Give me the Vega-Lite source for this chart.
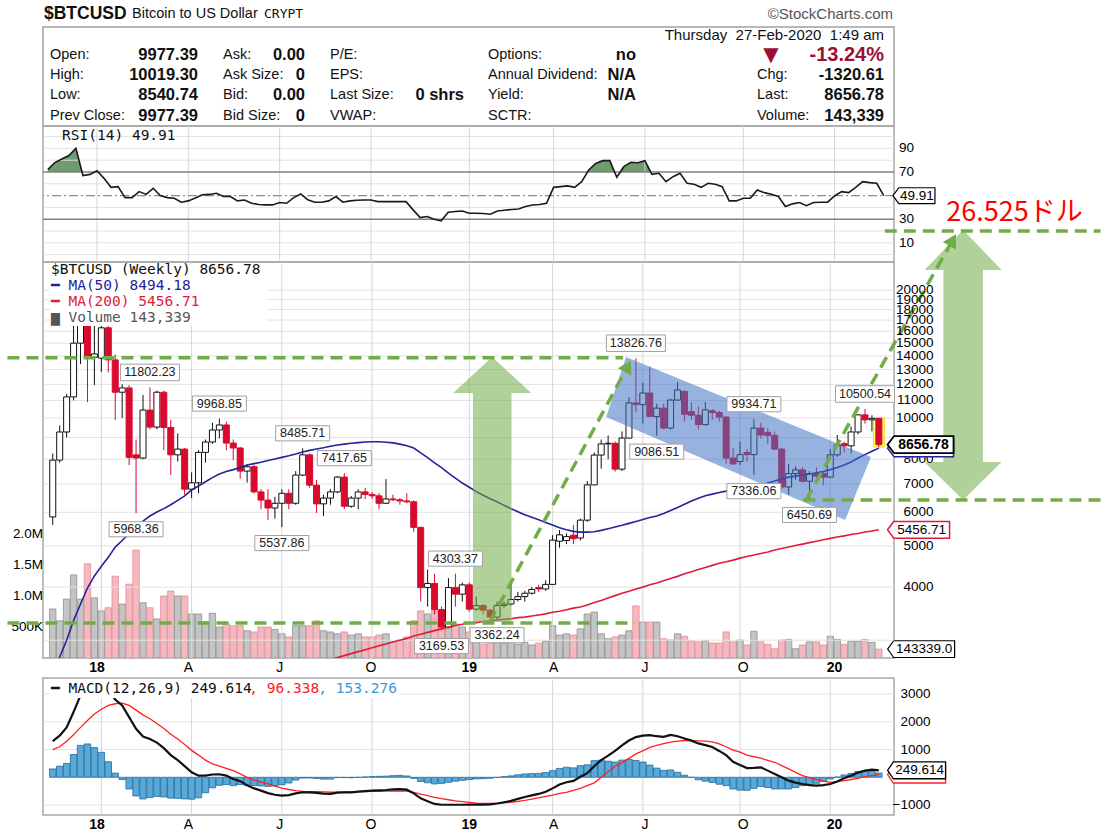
{
"$schema": "https://vega.github.io/schema/vega-lite/v6.json",
"background": "white",
"padding": {"left": 4, "top": 0, "right": 0, "bottom": 0},
"spacing": 0,
"bounds": "flush",
"config": {
  "font": "Liberation Sans",
  "view": {"stroke": "#a8a8a8", "strokeWidth": 1.5}
},
"datasets": {
"w": [
{"d":"2017-11-13","o":5850,"h":8250,"l":5600,"c":7960,"v":790000,"m50":2480,"rsi":72,"macd":1300,"sig":1000,"hist":300},
{"d":"2017-11-20","o":7960,"h":9600,"l":7850,"c":9270,"v":600000,"m50":2740,"rsi":78,"macd":1500,"sig":1100,"hist":400},
{"d":"2017-11-27","o":9270,"h":11400,"l":9000,"c":11210,"v":950000,"m50":3000,"rsi":81,"macd":1800,"sig":1300,"hist":500},
{"d":"2017-12-04","o":11210,"h":17200,"l":11000,"c":15000,"v":1340000,"m50":3340,"rsi":84,"macd":2350,"sig":1530,"hist":820},
{"d":"2017-12-11","o":15000,"h":19600,"l":13400,"c":19000,"v":950000,"m50":3650,"rsi":90,"macd":2950,"sig":1800,"hist":1150},
{"d":"2017-12-18","o":19000,"h":19200,"l":10900,"c":13900,"v":1520000,"m50":3980,"rsi":67,"macd":3250,"sig":2049,"hist":1201},
{"d":"2017-12-25","o":13900,"h":16500,"l":11960,"c":14150,"v":970000,"m50":4250,"rsi":68,"macd":3350,"sig":2280,"hist":1070},
{"d":"2018-01-01","o":13830,"h":17250,"l":12830,"c":16300,"v":760000,"m50":4480,"rsi":71,"macd":3350,"sig":2450,"hist":900},
{"d":"2018-01-08","o":16300,"h":17000,"l":12800,"c":13700,"v":810000,"m50":4700,"rsi":64.6,"macd":3150,"sig":2590,"hist":560},
{"d":"2018-01-15","o":13700,"h":14100,"l":9890,"c":11500,"v":1320000,"m50":4970,"rsi":57,"macd":2800,"sig":2650,"hist":150},
{"d":"2018-01-22","o":11500,"h":12000,"l":10000,"c":11770,"v":870000,"m50":5150,"rsi":57.6,"macd":2590,"sig":2670,"hist":-80},
{"d":"2018-01-29","o":11770,"h":11950,"l":7750,"c":8080,"v":1190000,"m50":5340,"rsi":48.3,"macd":2169,"sig":2590,"hist":-421},
{"d":"2018-02-05","o":8190,"h":8900,"l":5968.36,"c":8050,"v":1740000,"m50":5540,"rsi":48.3,"macd":1747,"sig":2420,"hist":-673},
{"d":"2018-02-12","o":8050,"h":11330,"l":8000,"c":10440,"v":890000,"m50":5720,"rsi":53.4,"macd":1470,"sig":2250,"hist":-780},
{"d":"2018-02-19","o":10440,"h":11802.23,"l":9400,"c":9520,"v":810000,"m50":5880,"rsi":51,"macd":1380,"sig":2109,"hist":-729},
{"d":"2018-02-26","o":9520,"h":11600,"l":9400,"c":11500,"v":630000,"m50":6010,"rsi":56.2,"macd":1250,"sig":1940,"hist":-690},
{"d":"2018-03-05","o":11500,"h":11600,"l":8400,"c":9500,"v":1000000,"m50":6120,"rsi":50,"macd":1050,"sig":1760,"hist":-710},
{"d":"2018-03-12","o":9500,"h":9900,"l":7340,"c":8190,"v":1080000,"m50":6250,"rsi":48.3,"macd":800,"sig":1550,"hist":-750},
{"d":"2018-03-19","o":8190,"h":9200,"l":7900,"c":8450,"v":1000000,"m50":6400,"rsi":47.7,"macd":620,"sig":1380,"hist":-760},
{"d":"2018-03-26","o":8450,"h":8500,"l":6600,"c":6800,"v":1000000,"m50":6560,"rsi":44.4,"macd":400,"sig":1180,"hist":-780},
{"d":"2018-04-02","o":6800,"h":7450,"l":6480,"c":7040,"v":710000,"m50":6770,"rsi":45.5,"macd":180,"sig":970,"hist":-790},
{"d":"2018-04-09","o":7040,"h":8400,"l":6650,"c":8300,"v":710000,"m50":6920,"rsi":48,"macd":60,"sig":800,"hist":-740},
{"d":"2018-04-16","o":8300,"h":8900,"l":7850,"c":8780,"v":580000,"m50":7080,"rsi":50.6,"macd":60,"sig":620,"hist":-560},
{"d":"2018-04-23","o":8780,"h":9750,"l":8700,"c":9370,"v":720000,"m50":7240,"rsi":51,"macd":100,"sig":480,"hist":-380},
{"d":"2018-04-30","o":9370,"h":9968.85,"l":8950,"c":9630,"v":500000,"m50":7380,"rsi":52,"macd":110,"sig":400,"hist":-290},
{"d":"2018-05-07","o":9630,"h":9800,"l":8400,"c":8730,"v":550000,"m50":7480,"rsi":49.2,"macd":60,"sig":320,"hist":-260},
{"d":"2018-05-14","o":8730,"h":8900,"l":7950,"c":8500,"v":520000,"m50":7560,"rsi":49.2,"macd":-60,"sig":241,"hist":-301},
{"d":"2018-05-21","o":8500,"h":8550,"l":7200,"c":7500,"v":520000,"m50":7650,"rsi":45.5,"macd":-140,"sig":120,"hist":-260},
{"d":"2018-05-28","o":7500,"h":7780,"l":7050,"c":7680,"v":440000,"m50":7750,"rsi":46.3,"macd":-290,"sig":0,"hist":-290},
{"d":"2018-06-04","o":7680,"h":7750,"l":6650,"c":6700,"v":420000,"m50":7810,"rsi":43.5,"macd":-400,"sig":-100,"hist":-300},
{"d":"2018-06-11","o":6700,"h":6800,"l":6100,"c":6410,"v":500000,"m50":7870,"rsi":42.5,"macd":-482,"sig":-170,"hist":-312},
{"d":"2018-06-18","o":6410,"h":6800,"l":5750,"c":6140,"v":500000,"m50":7940,"rsi":42.1,"macd":-570,"sig":-241,"hist":-329},
{"d":"2018-06-25","o":6140,"h":6520,"l":5800,"c":6300,"v":460000,"m50":8010,"rsi":42.1,"macd":-630,"sig":-320,"hist":-310},
{"d":"2018-07-02","o":6300,"h":6800,"l":5537.86,"c":6650,"v":390000,"m50":8080,"rsi":44.1,"macd":-660,"sig":-390,"hist":-270},
{"d":"2018-07-09","o":6650,"h":6800,"l":6100,"c":6300,"v":340000,"m50":8150,"rsi":43.5,"macd":-645,"sig":-440,"hist":-205},
{"d":"2018-07-16","o":6300,"h":7500,"l":6250,"c":7340,"v":520000,"m50":8230,"rsi":48.3,"macd":-580,"sig":-480,"hist":-100},
{"d":"2018-07-23","o":7340,"h":8485.71,"l":7300,"c":8190,"v":520000,"m50":8320,"rsi":51.4,"macd":-540,"sig":-510,"hist":-30},
{"d":"2018-07-30","o":8190,"h":8250,"l":6850,"c":6950,"v":520000,"m50":8390,"rsi":46.5,"macd":-542,"sig":-518,"hist":-24},
{"d":"2018-08-06","o":6950,"h":7150,"l":5980,"c":6280,"v":600000,"m50":8450,"rsi":44.4,"macd":-560,"sig":-518,"hist":-42},
{"d":"2018-08-13","o":6280,"h":6600,"l":5880,"c":6480,"v":440000,"m50":8510,"rsi":44.4,"macd":-590,"sig":-525,"hist":-65},
{"d":"2018-08-20","o":6480,"h":6800,"l":6250,"c":6700,"v":420000,"m50":8580,"m200":2700,"rsi":45.5,"macd":-600,"sig":-535,"hist":-65},
{"d":"2018-08-27","o":6700,"h":7300,"l":6650,"c":7260,"v":390000,"m50":8640,"m200":2730,"rsi":49.2,"macd":-550,"sig":-540,"hist":-10},
{"d":"2018-09-03","o":7260,"h":7417.65,"l":6100,"c":6200,"v":420000,"m50":8680,"m200":2760,"rsi":44.4,"macd":-545,"sig":-535,"hist":-10},
{"d":"2018-09-10","o":6200,"h":6550,"l":6150,"c":6480,"v":370000,"m50":8720,"m200":2790,"rsi":45.5,"macd":-542,"sig":-525,"hist":-17},
{"d":"2018-09-17","o":6480,"h":6800,"l":6100,"c":6700,"v":390000,"m50":8750,"m200":2820,"rsi":46,"macd":-520,"sig":-518,"hist":-2},
{"d":"2018-09-24","o":6700,"h":6850,"l":6450,"c":6610,"v":340000,"m50":8780,"m200":2850,"rsi":46.3,"macd":-500,"sig":-512,"hist":12},
{"d":"2018-10-01","o":6610,"h":6700,"l":6450,"c":6560,"v":340000,"m50":8790,"m200":2880,"rsi":46.3,"macd":-482,"sig":-508,"hist":26},
{"d":"2018-10-08","o":6560,"h":6660,"l":6100,"c":6300,"v":370000,"m50":8790,"m200":2910,"rsi":44.9,"macd":-470,"sig":-504,"hist":34},
{"d":"2018-10-15","o":6300,"h":7180,"l":6280,"c":6450,"v":390000,"m50":8770,"m200":2940,"rsi":44.9,"macd":-458,"sig":-500,"hist":42},
{"d":"2018-10-22","o":6450,"h":6600,"l":6380,"c":6420,"v":260000,"m50":8740,"m200":2970,"rsi":44.9,"macd":-435,"sig":-494,"hist":59},
{"d":"2018-10-29","o":6420,"h":6480,"l":6250,"c":6380,"v":290000,"m50":8680,"m200":3000,"rsi":44.9,"macd":-425,"sig":-494,"hist":69},
{"d":"2018-11-05","o":6380,"h":6650,"l":6300,"c":6350,"v":340000,"m50":8600,"m200":3030,"rsi":44.9,"macd":-446,"sig":-494,"hist":48},
{"d":"2018-11-12","o":6350,"h":6400,"l":5400,"c":5530,"v":600000,"m50":8500,"m200":3070,"rsi":37.9,"macd":-580,"sig":-540,"hist":-40},
{"d":"2018-11-19","o":5530,"h":5550,"l":3700,"c":3990,"v":760000,"m50":8280,"m200":3100,"rsi":31.4,"macd":-760,"sig":-610,"hist":-150},
{"d":"2018-11-26","o":3990,"h":4400,"l":3600,"c":4080,"v":710000,"m50":8070,"m200":3130,"rsi":32.3,"macd":-860,"sig":-663,"hist":-197},
{"d":"2018-12-03","o":4080,"h":4300,"l":3450,"c":3540,"v":760000,"m50":7840,"m200":3160,"rsi":30,"macd":-960,"sig":-720,"hist":-240},
{"d":"2018-12-10","o":3540,"h":3600,"l":3169.53,"c":3220,"v":600000,"m50":7640,"m200":3190,"rsi":28.6,"macd":-990,"sig":-770,"hist":-220},
{"d":"2018-12-17","o":3220,"h":4200,"l":3200,"c":3990,"v":580000,"m50":7420,"m200":3220,"rsi":35.9,"macd":-990,"sig":-810,"hist":-180},
{"d":"2018-12-24","o":3990,"h":4303.37,"l":3600,"c":3850,"v":550000,"m50":7220,"m200":3250,"rsi":36.5,"macd":-990,"sig":-850,"hist":-140},
{"d":"2018-12-31","o":3850,"h":4100,"l":3700,"c":4050,"v":500000,"m50":7030,"m200":3270,"rsi":37,"macd":-990,"sig":-880,"hist":-110},
{"d":"2019-01-07","o":4050,"h":4100,"l":3500,"c":3550,"v":420000,"m50":6870,"m200":3290,"rsi":35.1,"macd":-988,"sig":-905,"hist":-83},
{"d":"2019-01-14","o":3550,"h":3800,"l":3520,"c":3620,"v":250000,"m50":6710,"m200":3300,"rsi":35.1,"macd":-988,"sig":-930,"hist":-58},
{"d":"2019-01-21","o":3620,"h":3650,"l":3450,"c":3530,"v":220000,"m50":6580,"m200":3320,"rsi":34.8,"macd":-988,"sig":-940,"hist":-48},
{"d":"2019-01-28","o":3530,"h":3550,"l":3380,"c":3400,"v":270000,"m50":6460,"m200":3330,"rsi":34.2,"macd":-975,"sig":-940,"hist":-35},
{"d":"2019-02-04","o":3400,"h":3700,"l":3362.24,"c":3620,"v":290000,"m50":6350,"m200":3350,"rsi":37,"macd":-945,"sig":-940,"hist":-5},
{"d":"2019-02-11","o":3620,"h":3700,"l":3580,"c":3650,"v":240000,"m50":6230,"m200":3360,"rsi":37.6,"macd":-900,"sig":-925,"hist":25},
{"d":"2019-02-18","o":3650,"h":4150,"l":3620,"c":3740,"v":270000,"m50":6120,"m200":3370,"rsi":38.2,"macd":-850,"sig":-900,"hist":50},
{"d":"2019-02-25","o":3740,"h":3900,"l":3700,"c":3800,"v":220000,"m50":6020,"m200":3390,"rsi":38.7,"macd":-780,"sig":-870,"hist":90},
{"d":"2019-03-04","o":3800,"h":3920,"l":3700,"c":3870,"v":250000,"m50":5920,"m200":3400,"rsi":40.7,"macd":-710,"sig":-830,"hist":120},
{"d":"2019-03-11","o":3870,"h":4000,"l":3840,"c":3950,"v":210000,"m50":5840,"m200":3420,"rsi":42.1,"macd":-650,"sig":-783,"hist":133},
{"d":"2019-03-18","o":3990,"h":4050,"l":3900,"c":3960,"v":240000,"m50":5760,"m200":3440,"rsi":42.5,"macd":-600,"sig":-740,"hist":140},
{"d":"2019-03-25","o":3960,"h":4150,"l":3920,"c":4060,"v":270000,"m50":5680,"m200":3460,"rsi":43.5,"macd":-520,"sig":-690,"hist":170},
{"d":"2019-04-01","o":4060,"h":5300,"l":4050,"c":5160,"v":520000,"m50":5600,"m200":3490,"rsi":57,"macd":-400,"sig":-640,"hist":240},
{"d":"2019-04-08","o":5130,"h":5450,"l":4950,"c":5310,"v":370000,"m50":5520,"m200":3510,"rsi":57.6,"macd":-260,"sig":-580,"hist":320},
{"d":"2019-04-15","o":5150,"h":5350,"l":5050,"c":5260,"v":390000,"m50":5460,"m200":3540,"rsi":58.2,"macd":-180,"sig":-542,"hist":362},
{"d":"2019-04-22","o":5300,"h":5600,"l":5050,"c":5200,"v":370000,"m50":5410,"m200":3570,"rsi":57,"macd":-130,"sig":-470,"hist":340},
{"d":"2019-04-29","o":5220,"h":5800,"l":5150,"c":5750,"v":470000,"m50":5390,"m200":3590,"rsi":61.8,"macd":20,"sig":-398,"hist":418},
{"d":"2019-05-06","o":5750,"h":7100,"l":5700,"c":6960,"v":710000,"m50":5390,"m200":3630,"rsi":71.7,"macd":150,"sig":-300,"hist":450},
{"d":"2019-05-13","o":6960,"h":8300,"l":6950,"c":8180,"v":740000,"m50":5400,"m200":3680,"rsi":77.3,"macd":400,"sig":-200,"hist":600},
{"d":"2019-05-20","o":8180,"h":8900,"l":7600,"c":8690,"v":390000,"m50":5440,"m200":3720,"rsi":79.6,"macd":620,"sig":0,"hist":620},
{"d":"2019-05-27","o":8690,"h":9100,"l":8000,"c":8720,"v":310000,"m50":5490,"m200":3770,"rsi":79.6,"macd":780,"sig":200,"hist":580},
{"d":"2019-06-03","o":8720,"h":8800,"l":7480,"c":7580,"v":340000,"m50":5540,"m200":3820,"rsi":65.5,"macd":950,"sig":400,"hist":550},
{"d":"2019-06-10","o":7580,"h":9300,"l":7500,"c":8970,"v":370000,"m50":5590,"m200":3870,"rsi":74.5,"macd":1150,"sig":530,"hist":620},
{"d":"2019-06-17","o":8970,"h":11200,"l":8950,"c":10850,"v":440000,"m50":5650,"m200":3910,"rsi":78.2,"macd":1325,"sig":680,"hist":645},
{"d":"2019-06-24","o":10850,"h":13826.76,"l":10300,"c":10750,"v":840000,"m50":5710,"m200":3960,"rsi":77.9,"macd":1450,"sig":843,"hist":607},
{"d":"2019-07-01","o":10750,"h":12100,"l":9700,"c":11450,"v":580000,"m50":5770,"m200":4000,"rsi":79.6,"macd":1500,"sig":950,"hist":550},
{"d":"2019-07-08","o":11450,"h":13200,"l":10050,"c":10080,"v":580000,"m50":5830,"m200":4050,"rsi":68,"macd":1520,"sig":1080,"hist":440},
{"d":"2019-07-15","o":10080,"h":10800,"l":9086.51,"c":10550,"v":580000,"m50":5880,"m200":4090,"rsi":68.9,"macd":1480,"sig":1150,"hist":330},
{"d":"2019-07-22","o":10550,"h":10800,"l":9400,"c":9470,"v":310000,"m50":5960,"m200":4140,"rsi":61.8,"macd":1460,"sig":1210,"hist":250},
{"d":"2019-07-29","o":9470,"h":11100,"l":9400,"c":11020,"v":290000,"m50":6060,"m200":4190,"rsi":66,"macd":1530,"sig":1265,"hist":265},
{"d":"2019-08-05","o":11020,"h":12150,"l":11000,"c":11640,"v":390000,"m50":6160,"m200":4240,"rsi":68.9,"macd":1480,"sig":1300,"hist":180},
{"d":"2019-08-12","o":11550,"h":11600,"l":9800,"c":10200,"v":350000,"m50":6270,"m200":4300,"rsi":60.4,"macd":1400,"sig":1325,"hist":75},
{"d":"2019-08-19","o":10350,"h":10900,"l":9900,"c":10150,"v":280000,"m50":6380,"m200":4350,"rsi":59.6,"macd":1320,"sig":1320,"hist":0},
{"d":"2019-08-26","o":10150,"h":10650,"l":9400,"c":9650,"v":260000,"m50":6470,"m200":4400,"rsi":57,"macd":1220,"sig":1310,"hist":-90},
{"d":"2019-09-02","o":9650,"h":10900,"l":9600,"c":10450,"v":280000,"m50":6560,"m200":4450,"rsi":60.4,"macd":1160,"sig":1300,"hist":-140},
{"d":"2019-09-09","o":10400,"h":10500,"l":9900,"c":10300,"v":240000,"m50":6620,"m200":4500,"rsi":59.6,"macd":1090,"sig":1275,"hist":-185},
{"d":"2019-09-16","o":10300,"h":10400,"l":9800,"c":10050,"v":240000,"m50":6680,"m200":4550,"rsi":57.6,"macd":950,"sig":1200,"hist":-250},
{"d":"2019-09-23","o":10050,"h":10100,"l":7800,"c":8050,"v":420000,"m50":6730,"m200":4590,"rsi":45.5,"macd":800,"sig":1100,"hist":-300},
{"d":"2019-09-30","o":8050,"h":8500,"l":7750,"c":7800,"v":260000,"m50":6770,"m200":4630,"rsi":45.5,"macd":560,"sig":980,"hist":-420},
{"d":"2019-10-07","o":7900,"h":8800,"l":7750,"c":8200,"v":290000,"m50":6800,"m200":4680,"rsi":47.7,"macd":440,"sig":904,"hist":-464},
{"d":"2019-10-14","o":8300,"h":8450,"l":7900,"c":8200,"v":210000,"m50":6840,"m200":4720,"rsi":47.7,"macd":330,"sig":800,"hist":-470},
{"d":"2019-10-21","o":8200,"h":9934.71,"l":7336.06,"c":9470,"v":430000,"m50":6880,"m200":4760,"rsi":54.8,"macd":340,"sig":740,"hist":-400},
{"d":"2019-10-28","o":9470,"h":9750,"l":8950,"c":9120,"v":260000,"m50":6950,"m200":4800,"rsi":52.5,"macd":360,"sig":687,"hist":-327},
{"d":"2019-11-04","o":9250,"h":9450,"l":8700,"c":9100,"v":220000,"m50":7030,"m200":4840,"rsi":51.1,"macd":240,"sig":610,"hist":-370},
{"d":"2019-11-11","o":9100,"h":9300,"l":8400,"c":8450,"v":150000,"m50":7110,"m200":4890,"rsi":49.2,"macd":120,"sig":542,"hist":-422},
{"d":"2019-11-18","o":8450,"h":8500,"l":6800,"c":6880,"v":290000,"m50":7190,"m200":4930,"rsi":40.7,"macd":0,"sig":420,"hist":-420},
{"d":"2019-11-25","o":6880,"h":7800,"l":6600,"c":7400,"v":300000,"m50":7260,"m200":4970,"rsi":43,"macd":-120,"sig":301,"hist":-421},
{"d":"2019-12-02","o":7400,"h":7700,"l":7150,"c":7550,"v":150000,"m50":7300,"m200":5010,"rsi":44.1,"macd":-190,"sig":180,"hist":-370},
{"d":"2019-12-09","o":7550,"h":7650,"l":7050,"c":7100,"v":210000,"m50":7340,"m200":5050,"rsi":41.5,"macd":-241,"sig":60,"hist":-301},
{"d":"2019-12-16","o":7100,"h":7500,"l":6450.69,"c":7400,"v":260000,"m50":7380,"m200":5090,"rsi":44.1,"macd":-280,"sig":-10,"hist":-270},
{"d":"2019-12-23","o":7400,"h":7650,"l":7100,"c":7300,"v":260000,"m50":7430,"m200":5130,"rsi":44.4,"macd":-300,"sig":-84,"hist":-216},
{"d":"2019-12-30","o":7400,"h":7500,"l":6950,"c":7260,"v":210000,"m50":7480,"m200":5170,"rsi":44.4,"macd":-280,"sig":-140,"hist":-140},
{"d":"2020-01-06","o":7260,"h":8450,"l":7250,"c":8190,"v":350000,"m50":7560,"m200":5210,"rsi":49.7,"macd":-241,"sig":-181,"hist":-60},
{"d":"2020-01-13","o":8190,"h":9120,"l":8100,"c":8640,"v":300000,"m50":7650,"m200":5250,"rsi":53.4,"macd":-150,"sig":-160,"hist":10},
{"d":"2020-01-20","o":8700,"h":8800,"l":8300,"c":8600,"v":220000,"m50":7750,"m200":5280,"rsi":52.5,"macd":-36,"sig":-120,"hist":84},
{"d":"2020-01-27","o":8600,"h":9550,"l":8250,"c":9270,"v":270000,"m50":7880,"m200":5320,"rsi":57,"macd":60,"sig":-80,"hist":140},
{"d":"2020-02-03","o":9270,"h":10200,"l":9150,"c":10170,"v":270000,"m50":8050,"m200":5350,"rsi":61.8,"macd":170,"sig":-36,"hist":206},
{"d":"2020-02-10","o":10170,"h":10500.54,"l":9700,"c":9900,"v":300000,"m50":8200,"m200":5390,"rsi":61,"macd":241,"sig":20,"hist":221},
{"d":"2020-02-17","o":9900,"h":10150,"l":9300,"c":9980,"v":250000,"m50":8350,"m200":5420,"rsi":60.4,"macd":277,"sig":60,"hist":217},
{"d":"2020-02-24","o":9977.39,"h":10019.3,"l":8540.74,"c":8656.78,"v":143339,"m50":8494.18,"m200":5456.71,"rsi":49.91,"macd":249.614,"sig":96.338,"hist":153.276}
],
"hdr": [
{"t":"$BTCUSD","c":1,"r":-1,"k":"title"},
{"t":"Bitcoin to US Dollar","c":3,"r":-1,"k":"sub"},
{"t":"CRYPT","c":6,"r":-1,"k":"ex"},
{"t":"©StockCharts.com","c":15,"r":-1,"k":"brand"},
{"t":"Thursday\u00a0 27-Feb-2020\u00a0 1:49 am","c":14,"r":0,"k":"date"},
{"t":"Open:","c":2,"r":1,"k":"lab"},
{"t":"High:","c":2,"r":2,"k":"lab"},
{"t":"Low:","c":2,"r":3,"k":"lab"},
{"t":"Prev Close:","c":2,"r":4,"k":"lab"},
{"t":"Ask:","c":5,"r":1,"k":"lab"},
{"t":"Ask Size:","c":5,"r":2,"k":"lab"},
{"t":"Bid:","c":5,"r":3,"k":"lab"},
{"t":"Bid Size:","c":5,"r":4,"k":"lab"},
{"t":"P/E:","c":8,"r":1,"k":"lab"},
{"t":"EPS:","c":8,"r":2,"k":"lab"},
{"t":"Last Size:","c":8,"r":3,"k":"lab"},
{"t":"VWAP:","c":8,"r":4,"k":"lab"},
{"t":"Options:","c":10,"r":1,"k":"lab"},
{"t":"Annual Dividend:","c":10,"r":2,"k":"lab"},
{"t":"Yield:","c":10,"r":3,"k":"lab"},
{"t":"SCTR:","c":10,"r":4,"k":"lab"},
{"t":"Chg:","c":12,"r":2,"k":"lab"},
{"t":"Last:","c":12,"r":3,"k":"lab"},
{"t":"Volume:","c":12,"r":4,"k":"lab"},
{"t":"9977.39","c":4,"r":1,"k":"val"},
{"t":"10019.30","c":4,"r":2,"k":"val"},
{"t":"8540.74","c":4,"r":3,"k":"val"},
{"t":"9977.39","c":4,"r":4,"k":"val"},
{"t":"0.00","c":7,"r":1,"k":"val"},
{"t":"0","c":7,"r":2,"k":"val"},
{"t":"0.00","c":7,"r":3,"k":"val"},
{"t":"0","c":7,"r":4,"k":"val"},
{"t":"0 shrs","c":9,"r":3,"k":"val"},
{"t":"no","c":11,"r":1,"k":"val"},
{"t":"N/A","c":11,"r":2,"k":"val"},
{"t":"N/A","c":11,"r":3,"k":"val"},
{"t":"-1320.61","c":14,"r":2,"k":"val"},
{"t":"8656.78","c":14,"r":3,"k":"val"},
{"t":"143,339","c":14,"r":4,"k":"val"},
{"t":"▼","c":13,"r":1,"k":"arrow"},
{"t":"-13.24%","c":14,"r":1,"k":"pct"}
],
"xl": [
{"d":"2018-01-01","t":"18","b":1},
{"d":"2018-04-02","t":"A","b":0},
{"d":"2018-07-02","t":"J","b":0},
{"d":"2018-10-01","t":"O","b":0},
{"d":"2019-01-07","t":"19","b":1},
{"d":"2019-04-01","t":"A","b":0},
{"d":"2019-07-01","t":"J","b":0},
{"d":"2019-10-07","t":"O","b":0},
{"d":"2020-01-06","t":"20","b":1}
],
"sw": [
{"d":"2018-02-19","p":11802.23,"s":"hi"},
{"d":"2018-02-05","p":5968.36,"s":"lo"},
{"d":"2018-04-30","p":9968.85,"s":"hi"},
{"d":"2018-07-23","p":8485.71,"s":"hi"},
{"d":"2018-07-02","p":5537.86,"s":"lo"},
{"d":"2018-09-03","p":7417.65,"s":"hi"},
{"d":"2018-12-24","p":4303.37,"s":"hi"},
{"d":"2018-12-10","p":3169.53,"s":"lo"},
{"d":"2019-02-04","p":3362.24,"s":"lo"},
{"d":"2019-06-24","p":13826.76,"s":"hi"},
{"d":"2019-07-15","p":9086.51,"s":"lo"},
{"d":"2019-10-21","p":9934.71,"s":"hi"},
{"d":"2019-10-21","p":7336.06,"s":"lo"},
{"d":"2019-12-16","p":6450.69,"s":"lo"},
{"d":"2020-02-10","p":10500.54,"s":"hi"}
],
"dash": [
{"d":"2017-09-28T08:00:00Z","p":13867,"d2":"2019-06-11T00:00:00Z","p2":13867},
{"d":"2017-09-28T08:00:00Z","p":3294,"d2":"2019-06-23T00:00:00Z","p2":3294},
{"d":"2020-03-01T00:00:00Z","p":27540,"d2":"2020-10-04T12:00:00Z","p2":27540},
{"d":"2019-12-10T00:00:00Z","p":6412,"d2":"2020-10-04T12:00:00Z","p2":6412},
{"d":"2019-01-27T14:00:00Z","p":3311,"d2":"2019-06-15T19:00:00Z","p2":13243},
{"d":"2019-12-12T12:00:00Z","p":6412,"d2":"2020-05-08T10:00:00Z","p2":26230}
],
"arw": [
{"g":"U","d":"2018-12-21T18:00:00Z","ya":11450,"yb":11450},
{"g":"U","d":"2019-01-10T17:00:00Z","ya":12640,"yb":11450},
{"g":"U","d":"2019-01-10T17:30:00Z","ya":12640,"yb":3311},
{"g":"U","d":"2019-01-30T02:00:00Z","ya":13916,"yb":3311},
{"g":"U","d":"2019-02-18T13:00:00Z","ya":12640,"yb":3311},
{"g":"U","d":"2019-02-18T13:30:00Z","ya":12640,"yb":11450},
{"g":"U","d":"2019-03-10T12:00:00Z","ya":11450,"yb":11450},
{"g":"R1","d":"2020-04-10T00:00:00Z","ya":22290,"yb":22290},
{"g":"R1","d":"2020-04-29T00:00:00Z","ya":24780,"yb":22290},
{"g":"R1","d":"2020-04-29T00:30:00Z","ya":24780,"yb":7880},
{"g":"R1","d":"2020-05-18T22:00:00Z","ya":27700,"yb":7880},
{"g":"R1","d":"2020-06-07T22:00:00Z","ya":24780,"yb":7880},
{"g":"R1","d":"2020-06-07T22:30:00Z","ya":24780,"yb":22290},
{"g":"R1","d":"2020-06-26T19:00:00Z","ya":22290,"yb":22290},
{"g":"R2","d":"2020-04-10T00:00:00Z","ya":7880,"yb":7880},
{"g":"R2","d":"2020-05-18T22:00:00Z","ya":7880,"yb":6412},
{"g":"R2","d":"2020-06-26T19:00:00Z","ya":7880,"yb":7880}
],
"band": [
{"d":"2019-05-25T00:00:00Z","ya":10054,"yb":10054},
{"d":"2019-06-14T00:00:00Z","ya":13916,"yb":9602},
{"d":"2020-01-21T00:00:00Z","ya":8568,"yb":5754},
{"d":"2020-02-16T00:00:00Z","ya":8094,"yb":8094}
]
},
"vconcat": [
{
"width": 851, "height": 126,
"view": {"stroke": null},
"data": {"name": "hdr"},
"layer": [
{"data": {"values": [{}]}, "mark": {"type": "rect", "fill": "white", "stroke": "#b8b8b8", "strokeWidth": 2},
 "encoding": {
  "x": {"datum": 0, "type": "quantitative", "scale": {"domain": [0,1,2,3,4,5,6,7,8,9,10,11,12,13,14,15,16], "range": [0,1,7,89,155,180,221,262,287,421,445,593,714,728,841,850,851], "zero": false, "nice": false}, "axis": null},
  "x2": {"datum": 16},
  "y": {"datum": -0.374, "type": "quantitative", "scale": {"domain": [-1.7044, 4.5025], "reverse": true, "zero": false, "nice": false}, "axis": null},
  "y2": {"datum": 4.5025}}},
{"transform": [{"filter": "datum.k == 'title'"}], "mark": {"type": "text", "align": "left", "baseline": "middle", "fontSize": 17.5, "fontWeight": "bold", "color": "#111111"},
 "encoding": {"x": {"field": "c", "type": "quantitative", "axis": null}, "y": {"field": "r", "type": "quantitative", "axis": null}, "text": {"field": "t"}}},
{"transform": [{"filter": "datum.k == 'sub'"}], "mark": {"type": "text", "align": "left", "baseline": "middle", "fontSize": 14.5, "color": "#111111"},
 "encoding": {"x": {"field": "c", "type": "quantitative", "axis": null}, "y": {"field": "r", "type": "quantitative", "axis": null}, "text": {"field": "t"}}},
{"transform": [{"filter": "datum.k == 'ex'"}], "mark": {"type": "text", "align": "left", "baseline": "middle", "fontSize": 13, "font": "DejaVu Sans Mono", "color": "#111111"},
 "encoding": {"x": {"field": "c", "type": "quantitative", "axis": null}, "y": {"field": "r", "type": "quantitative", "axis": null}, "text": {"field": "t"}}},
{"transform": [{"filter": "datum.k == 'brand'"}], "mark": {"type": "text", "align": "right", "baseline": "middle", "fontSize": 15, "color": "#555555"},
 "encoding": {"x": {"field": "c", "type": "quantitative", "axis": null}, "y": {"field": "r", "type": "quantitative", "axis": null}, "text": {"field": "t"}}},
{"transform": [{"filter": "datum.k == 'date'"}], "mark": {"type": "text", "align": "right", "baseline": "middle", "fontSize": 15, "color": "#111111"},
 "encoding": {"x": {"field": "c", "type": "quantitative", "axis": null}, "y": {"field": "r", "type": "quantitative", "axis": null}, "text": {"field": "t"}}},
{"transform": [{"filter": "datum.k == 'lab'"}], "mark": {"type": "text", "align": "left", "baseline": "middle", "fontSize": 14.5, "color": "#111111"},
 "encoding": {"x": {"field": "c", "type": "quantitative", "axis": null}, "y": {"field": "r", "type": "quantitative", "axis": null}, "text": {"field": "t"}}},
{"transform": [{"filter": "datum.k == 'val'"}], "mark": {"type": "text", "align": "right", "baseline": "middle", "fontSize": 16.5, "fontWeight": "bold", "color": "#111111"},
 "encoding": {"x": {"field": "c", "type": "quantitative", "axis": null}, "y": {"field": "r", "type": "quantitative", "axis": null}, "text": {"field": "t"}}},
{"transform": [{"filter": "datum.k == 'arrow'"}], "mark": {"type": "text", "align": "center", "baseline": "middle", "fontSize": 20, "color": "#9c0f36", "font": "DejaVu Sans"},
 "encoding": {"x": {"field": "c", "type": "quantitative", "axis": null}, "y": {"field": "r", "type": "quantitative", "axis": null}, "text": {"field": "t"}}},
{"transform": [{"filter": "datum.k == 'pct'"}], "mark": {"type": "text", "align": "right", "baseline": "middle", "fontSize": 20, "fontWeight": "bold", "color": "#9c0f36"},
 "encoding": {"x": {"field": "c", "type": "quantitative", "axis": null}, "y": {"field": "r", "type": "quantitative", "axis": null}, "text": {"field": "t"}}}
]
},
{
"width": 851, "height": 136,
"data": {"name": "w"},
"layer": [
{"mark": {"type": "area", "color": "#6f9b6e", "clip": true, "opacity": 1},
 "encoding": {
  "x": {"field": "d", "type": "temporal", "scale": {"type": "utc", "domain": [{"year":2017,"month":11,"date":8,"hours":5,"utc":true},{"year":2020,"month":3,"date":5,"hours":5,"utc":true}]}, "axis": null},
  "y": {"field": "rsi", "type": "quantitative", "scale": {"domain": [-6.27, 108.98], "zero": false, "nice": false}, "axis": null},
  "y2": {"datum": 70}}},
{"data": {"values": [{}]}, "mark": {"type": "rect", "fill": "white"},
 "encoding": {
  "x": {"datum": {"year":2017,"month":11,"date":9,"hours":17,"utc":true}, "type": "temporal", "axis": null},
  "x2": {"datum": {"year":2020,"month":3,"date":3,"hours":17,"utc":true}},
  "y": {"datum": -5.2, "type": "quantitative", "axis": null},
  "y2": {"datum": 70}}},
{"data": {"values": [{"lv": 0}, {"lv": 10}, {"lv": 20}, {"lv": 40}, {"lv": 60}, {"lv": 80}, {"lv": 90}, {"lv": 100}]}, "mark": {"type": "rule", "color": "#e2e2e2", "strokeWidth": 1},
 "encoding": {"y": {"field": "lv", "type": "quantitative", "axis": null}}},
{"data": {"name": "xl"}, "mark": {"type": "rule", "color": "#d6d6d6", "strokeWidth": 1},
 "encoding": {"x": {"field": "d", "type": "temporal", "axis": null}}},
{"data": {"values": [{"lv": 30}, {"lv": 70}]}, "mark": {"type": "rule", "color": "#808080", "strokeWidth": 1.6},
 "encoding": {"y": {"field": "lv", "type": "quantitative", "axis": null}}},
{"data": {"values": [{"lv": 50}]}, "mark": {"type": "rule", "color": "#8c8c8c", "strokeWidth": 1.3, "strokeDash": [9, 3, 2, 3]},
 "encoding": {"y": {"field": "lv", "type": "quantitative", "axis": null}}},
{"mark": {"type": "line", "color": "#1a1a1a", "strokeWidth": 1.6, "clip": true},
 "encoding": {"x": {"field": "d", "type": "temporal", "axis": null}, "y": {"field": "rsi", "type": "quantitative", "axis": null}}},
{"data": {"values": [{"d": "2017-11-27T05:00:00Z", "v": 100.5, "t": "RSI(14) 49.91"}]},
 "mark": {"type": "text", "align": "left", "baseline": "middle", "font": "DejaVu Sans Mono", "fontSize": 14.5, "color": "#111111"},
 "encoding": {"x": {"field": "d", "type": "temporal", "axis": null}, "y": {"field": "v", "type": "quantitative", "axis": null}, "text": {"field": "t"}}},
{"data": {"values": [{"v": 90}, {"v": 70}, {"v": 30}, {"v": 10}]},
 "mark": {"type": "text", "align": "left", "baseline": "middle", "fontSize": 13.5, "color": "#000000"},
 "encoding": {"x": {"datum": {"year":2020,"month":3,"date":10,"hours":5,"utc":true}, "type": "temporal", "axis": null}, "y": {"field": "v", "type": "quantitative", "axis": null}, "text": {"field": "v", "type": "quantitative", "format": "d"}}},
{"data": {"values": [{"d": "2020-03-25T02:00:00Z", "v": 49.91}]},
 "mark": {"type": "point", "shape": "M -1 0 L -0.72 -0.38 L 1 -0.38 L 1 0.38 L -0.72 0.38 Z", "size": 1764, "filled": true, "fill": "white", "stroke": "#000000", "strokeWidth": 1.2, "opacity": 1},
 "encoding": {"x": {"field": "d", "type": "temporal", "axis": null}, "y": {"field": "v", "type": "quantitative", "axis": null}}},
{"data": {"values": [{"d": "2020-03-25T02:00:00Z", "v": 49.91}]},
 "mark": {"type": "text", "align": "center", "baseline": "middle", "fontSize": 13.5, "dx": 3},
 "encoding": {"x": {"field": "d", "type": "temporal", "axis": null}, "y": {"field": "v", "type": "quantitative", "axis": null}, "text": {"field": "v", "type": "quantitative", "format": ".2f"}}}
]
},
{
"width": 851, "height": 396,
"resolve": {"scale": {"y": "independent"}, "axis": {"y": "independent"}},
"layer": [
{
"layer": [
{"data": {"name": "w"}, "mark": {"type": "bar", "width": 6.4, "strokeWidth": 0.8, "clip": true},
 "encoding": {
  "x": {"field": "d", "type": "temporal", "scale": {"type": "utc", "domain": [{"year":2017,"month":11,"date":8,"hours":5,"utc":true},{"year":2020,"month":3,"date":5,"hours":5,"utc":true}]}, "axis": null},
  "y": {"field": "v", "type": "quantitative", "scale": {"domain": [0, 6387000], "nice": false}, "axis": null},
  "fill": {"condition": {"test": "datum.c >= datum.o", "value": "#c4c4c4"}, "value": "#f4b8bf"},
  "stroke": {"condition": {"test": "datum.c >= datum.o", "value": "#8f8f8f"}, "value": "#e38d99"}}},
{"data": {"values": [{"d": "2017-11-03T05:00:00Z", "v": 500000, "t": "500K"}, {"d": "2017-11-03T05:00:00Z", "v": 1000000, "t": "1.0M"}, {"d": "2017-11-03T05:00:00Z", "v": 1500000, "t": "1.5M"}, {"d": "2017-11-03T05:00:00Z", "v": 2000000, "t": "2.0M"}]},
 "mark": {"type": "text", "align": "right", "baseline": "middle", "fontSize": 13.5, "color": "#000000"},
 "encoding": {"x": {"field": "d", "type": "temporal", "axis": null}, "y": {"field": "v", "type": "quantitative", "axis": null}, "text": {"field": "t"}}},
{"data": {"values": [{"d": "2020-04-06T14:00:00Z", "v": 143339}]},
 "mark": {"type": "point", "shape": "M -1 0 L -0.82 -0.25 L 1 -0.25 L 1 0.25 L -0.82 0.25 Z", "size": 4489, "filled": true, "fill": "white", "stroke": "#000000", "strokeWidth": 1.2, "opacity": 1},
 "encoding": {"x": {"field": "d", "type": "temporal", "axis": null}, "y": {"field": "v", "type": "quantitative", "axis": null}}},
{"data": {"values": [{"d": "2020-04-06T14:00:00Z", "v": 143339}]},
 "mark": {"type": "text", "align": "center", "baseline": "middle", "fontSize": 13.5, "dx": 3},
 "encoding": {"x": {"field": "d", "type": "temporal", "axis": null}, "y": {"field": "v", "type": "quantitative", "axis": null}, "text": {"field": "v", "type": "quantitative", "format": ".1f"}}}
]
},
{
"data": {"name": "w"},
"layer": [
{"data": {"values": [{"p":3000},{"p":4000},{"p":5000},{"p":6000},{"p":7000},{"p":8000},{"p":9000},{"p":10000},{"p":11000},{"p":12000},{"p":13000},{"p":14000},{"p":15000},{"p":16000},{"p":17000},{"p":18000},{"p":19000},{"p":20000}]},
 "mark": {"type": "rule", "color": "#e3e3e3", "strokeWidth": 1},
 "encoding": {"y": {"field": "p", "type": "quantitative", "scale": {"type": "log", "domain": [2724.5, 23285], "nice": false}, "axis": null}}},
{"data": {"name": "xl"}, "mark": {"type": "rule", "color": "#d6d6d6", "strokeWidth": 1},
 "encoding": {"x": {"field": "d", "type": "temporal", "axis": null}}},
{"data": {"values": [{"d": "2020-02-24", "h": 10019.3, "l": 8540.74}]},
 "mark": {"type": "bar", "width": 11, "fill": "#ffff66", "stroke": "#eedd33", "strokeWidth": 1},
 "encoding": {"x": {"field": "d", "type": "temporal", "axis": null}, "y": {"field": "h", "type": "quantitative", "axis": null}, "y2": {"field": "l"}}},
{"mark": {"type": "rule", "strokeWidth": 1, "clip": true},
 "encoding": {
  "x": {"field": "d", "type": "temporal", "axis": null},
  "y": {"field": "l", "type": "quantitative", "axis": null},
  "y2": {"field": "h"},
  "color": {"condition": {"test": "datum.c >= datum.o", "value": "#111111"}, "value": "#d80a2e"}}},
{"mark": {"type": "bar", "width": 6, "strokeWidth": 1, "clip": true},
 "encoding": {
  "x": {"field": "d", "type": "temporal", "axis": null},
  "y": {"field": "o", "type": "quantitative", "axis": null},
  "y2": {"field": "c"},
  "fill": {"condition": {"test": "datum.c >= datum.o", "value": "#ffffff"}, "value": "#d80a2e"},
  "stroke": {"condition": {"test": "datum.c >= datum.o", "value": "#111111"}, "value": "#d80a2e"}}},
{"mark": {"type": "line", "color": "#e01b3c", "strokeWidth": 1.6, "clip": true},
 "encoding": {"x": {"field": "d", "type": "temporal", "axis": null}, "y": {"field": "m200", "type": "quantitative", "axis": null}}},
{"mark": {"type": "line", "color": "#23239a", "strokeWidth": 1.6, "clip": true},
 "encoding": {"x": {"field": "d", "type": "temporal", "axis": null}, "y": {"field": "m50", "type": "quantitative", "axis": null}}},
{"data": {"name": "arw"}, "mark": {"type": "area", "color": "#70ad47", "opacity": 0.55},
 "encoding": {"x": {"field": "d", "type": "temporal", "axis": null}, "y": {"field": "ya", "type": "quantitative", "axis": null}, "y2": {"field": "yb"},
  "detail": {"field": "g", "type": "nominal"}}},
{"data": {"name": "band"}, "mark": {"type": "area", "color": "#4472c4", "opacity": 0.55},
 "encoding": {"x": {"field": "d", "type": "temporal", "axis": null}, "y": {"field": "ya", "type": "quantitative", "axis": null}, "y2": {"field": "yb"}}},
{"data": {"name": "dash"}, "mark": {"type": "rule", "color": "#70ad47", "strokeWidth": 3.5, "strokeDash": [12, 7], "clip": false},
 "encoding": {"x": {"field": "d", "type": "temporal", "axis": null}, "x2": {"field": "d2"}, "y": {"field": "p", "type": "quantitative", "axis": null}, "y2": {"field": "p2"}}},
{"data": {"values": [{"d": "2019-06-15T19:00:00Z", "p": 13243}]},
 "mark": {"type": "point", "shape": "triangle-up", "angle": 28.4, "size": 230, "filled": true, "color": "#70ad47", "opacity": 1},
 "encoding": {"x": {"field": "d", "type": "temporal", "axis": null}, "y": {"field": "p", "type": "quantitative", "axis": null}}},
{"data": {"values": [{"d": "2020-05-08T10:00:00Z", "p": 26230}]},
 "mark": {"type": "point", "shape": "triangle-up", "angle": 29.7, "size": 230, "filled": true, "color": "#70ad47", "opacity": 1},
 "encoding": {"x": {"field": "d", "type": "temporal", "axis": null}, "y": {"field": "p", "type": "quantitative", "axis": null}}},
{"data": {"name": "sw"}, "transform": [{"filter": "datum.s == 'hi'"}],
 "mark": {"type": "point", "shape": "M -1 -0.28 L 1 -0.28 L 1 0.28 L -1 0.28 Z", "filled": true, "fill": "white", "stroke": "#a0a0a0", "strokeWidth": 1, "opacity": 1, "yOffset": -15},
 "encoding": {"x": {"field": "d", "type": "temporal", "axis": null}, "y": {"field": "p", "type": "quantitative", "axis": null},
  "size": {"condition": {"test": "datum.p >= 10000", "value": 3481}, "value": 2916}}},
{"data": {"name": "sw"}, "transform": [{"filter": "datum.s == 'hi'"}],
 "mark": {"type": "text", "align": "center", "baseline": "middle", "fontSize": 12.5, "color": "#222222", "yOffset": -15},
 "encoding": {"x": {"field": "d", "type": "temporal", "axis": null}, "y": {"field": "p", "type": "quantitative", "axis": null}, "text": {"field": "p", "type": "quantitative", "format": ".2f"}}},
{"data": {"name": "sw"}, "transform": [{"filter": "datum.s == 'lo'"}],
 "mark": {"type": "point", "shape": "M -1 -0.28 L 1 -0.28 L 1 0.28 L -1 0.28 Z", "filled": true, "fill": "white", "stroke": "#a0a0a0", "strokeWidth": 1, "opacity": 1, "yOffset": 16},
 "encoding": {"x": {"field": "d", "type": "temporal", "axis": null}, "y": {"field": "p", "type": "quantitative", "axis": null},
  "size": {"condition": {"test": "datum.p >= 10000", "value": 3481}, "value": 2916}}},
{"data": {"name": "sw"}, "transform": [{"filter": "datum.s == 'lo'"}],
 "mark": {"type": "text", "align": "center", "baseline": "middle", "fontSize": 12.5, "color": "#222222", "yOffset": 16},
 "encoding": {"x": {"field": "d", "type": "temporal", "axis": null}, "y": {"field": "p", "type": "quantitative", "axis": null}, "text": {"field": "p", "type": "quantitative", "format": ".2f"}}},
{"data": {"values": [{}]}, "mark": {"type": "rect", "fill": "white"},
 "encoding": {
  "x": {"datum": {"year":2017,"month":11,"date":10,"hours":5,"utc":true}, "type": "temporal", "axis": null},
  "x2": {"datum": {"year":2018,"month":6,"date":17,"utc":true}},
  "y": {"datum": 16460, "type": "quantitative", "axis": null},
  "y2": {"datum": 23000}}},
{"data": {"values": [
  {"d": "2017-11-11T05:00:00Z", "p": 22290, "t": "\u00a0\u00a0$BTCUSD (Weekly) 8656.78", "k": "a"},
  {"d": "2017-11-11T05:00:00Z", "p": 20440, "t": "━ MA(50) 8494.18", "k": "b"},
  {"d": "2017-11-11T05:00:00Z", "p": 18750, "t": "━ MA(200) 5456.71", "k": "c"},
  {"d": "2017-11-11T05:00:00Z", "p": 17190, "t": "▆ Volume 143,339", "k": "d"}]},
 "mark": {"type": "text", "align": "left", "baseline": "middle", "font": "DejaVu Sans Mono", "fontSize": 14.5},
 "encoding": {"x": {"field": "d", "type": "temporal", "axis": null}, "y": {"field": "p", "type": "quantitative", "axis": null}, "text": {"field": "t"},
  "color": {"condition": [{"test": "datum.k == 'b'", "value": "#23239a"}, {"test": "datum.k == 'c'", "value": "#e01b3c"}, {"test": "datum.k == 'd'", "value": "#555555"}], "value": "#111111"}}},
{"data": {"values": [{"p":4000},{"p":5000},{"p":6000},{"p":7000},{"p":8000},{"p":10000},{"p":11000},{"p":12000},{"p":13000},{"p":14000},{"p":15000},{"p":16000},{"p":17000},{"p":18000},{"p":19000},{"p":20000}]},
 "mark": {"type": "text", "align": "right", "baseline": "middle", "fontSize": 13.5, "color": "#000000"},
 "encoding": {"x": {"datum": {"year":2020,"month":4,"date":19,"hours":2,"utc":true}, "type": "temporal", "axis": null}, "y": {"field": "p", "type": "quantitative", "axis": null}, "text": {"field": "p", "type": "quantitative", "format": "d"}}},
{"data": {"values": [{"d": "2020-04-06T00:00:00Z", "p": 8494.18}]},
 "mark": {"type": "point", "shape": "M -1 0 L -0.8 -0.26 L 1 -0.26 L 1 0.26 L -0.8 0.26 Z", "size": 4356, "filled": true, "fill": "white", "stroke": "#23239a", "strokeWidth": 1.5, "opacity": 1},
 "encoding": {"x": {"field": "d", "type": "temporal", "axis": null}, "y": {"field": "p", "type": "quantitative", "axis": null}}},
{"data": {"values": [{"d": "2020-04-06T00:00:00Z", "p": 8656.78}]},
 "mark": {"type": "point", "shape": "M -1 0 L -0.8 -0.26 L 1 -0.26 L 1 0.26 L -0.8 0.26 Z", "size": 4356, "filled": true, "fill": "white", "stroke": "#000000", "strokeWidth": 1.8, "opacity": 1},
 "encoding": {"x": {"field": "d", "type": "temporal", "axis": null}, "y": {"field": "p", "type": "quantitative", "axis": null}}},
{"data": {"values": [{"d": "2020-04-06T00:00:00Z", "p": 8656.78}]},
 "mark": {"type": "text", "align": "center", "baseline": "middle", "fontSize": 14, "fontWeight": "bold", "dx": 3},
 "encoding": {"x": {"field": "d", "type": "temporal", "axis": null}, "y": {"field": "p", "type": "quantitative", "axis": null}, "text": {"field": "p", "type": "quantitative", "format": ".2f"}}},
{"data": {"values": [{"d": "2020-04-04T00:00:00Z", "p": 5456.71}]},
 "mark": {"type": "point", "shape": "M -1 0 L -0.8 -0.27 L 1 -0.27 L 1 0.27 L -0.8 0.27 Z", "size": 3844, "filled": true, "fill": "white", "stroke": "#e01b3c", "strokeWidth": 1.5, "opacity": 1},
 "encoding": {"x": {"field": "d", "type": "temporal", "axis": null}, "y": {"field": "p", "type": "quantitative", "axis": null}}},
{"data": {"values": [{"d": "2020-04-04T00:00:00Z", "p": 5456.71}]},
 "mark": {"type": "text", "align": "center", "baseline": "middle", "fontSize": 13.5, "dx": 3},
 "encoding": {"x": {"field": "d", "type": "temporal", "axis": null}, "y": {"field": "p", "type": "quantitative", "axis": null}, "text": {"field": "p", "type": "quantitative", "format": ".2f"}}},
{"data": {"values": [{"d": "2020-05-02T00:00:00Z", "p": 30370, "t": "26.525ドル"}]},
 "mark": {"type": "text", "align": "left", "baseline": "middle", "font": "Noto Sans CJK JP", "fontSize": 27, "color": "#ff0000"},
 "encoding": {"x": {"field": "d", "type": "temporal", "axis": null}, "y": {"field": "p", "type": "quantitative", "axis": null}, "text": {"field": "t"}}}
]
}
]
},
{
"width": 851, "height": 20,
"view": {"stroke": null},
"data": {"name": "xl"},
"layer": [
{"transform": [{"filter": "datum.b == 1"}], "mark": {"type": "text", "align": "center", "baseline": "middle", "fontSize": 14, "fontWeight": "bold", "color": "#000000"},
 "encoding": {"x": {"field": "d", "type": "temporal", "scale": {"type": "utc", "domain": [{"year":2017,"month":11,"date":8,"hours":5,"utc":true},{"year":2020,"month":3,"date":5,"hours":5,"utc":true}]}, "axis": null}, "text": {"field": "t"}}},
{"transform": [{"filter": "datum.b == 0"}], "mark": {"type": "text", "align": "center", "baseline": "middle", "fontSize": 14, "color": "#000000"},
 "encoding": {"x": {"field": "d", "type": "temporal", "axis": null}, "text": {"field": "t"}}}
]
},
{
"width": 851, "height": 137,
"data": {"name": "w"},
"layer": [
{"data": {"name": "xl"}, "mark": {"type": "rule", "color": "#d6d6d6", "strokeWidth": 1},
 "encoding": {"x": {"field": "d", "type": "temporal", "scale": {"type": "utc", "domain": [{"year":2017,"month":11,"date":8,"hours":5,"utc":true},{"year":2020,"month":3,"date":5,"hours":5,"utc":true}]}, "axis": null}}},
{"data": {"values": [{"m": -1000}, {"m": 1000}, {"m": 2000}, {"m": 3000}]}, "mark": {"type": "rule", "color": "#e3e3e3", "strokeWidth": 1},
 "encoding": {"y": {"field": "m", "type": "quantitative", "scale": {"domain": [-1359, 3578], "zero": false, "nice": false}, "axis": null}}},
{"mark": {"type": "bar", "width": 6.4, "fill": "#58a8d8", "stroke": "#22699a", "strokeWidth": 0.8},
 "encoding": {
  "x": {"field": "d", "type": "temporal", "axis": null},
  "y": {"field": "hist", "type": "quantitative", "axis": null},
  "y2": {"datum": 0}}},
{"mark": {"type": "line", "color": "#ff2020", "strokeWidth": 1.3, "clip": true},
 "encoding": {"x": {"field": "d", "type": "temporal", "axis": null}, "y": {"field": "sig", "type": "quantitative", "axis": null}}},
{"mark": {"type": "line", "color": "#111111", "strokeWidth": 2.2, "clip": true},
 "encoding": {"x": {"field": "d", "type": "temporal", "axis": null}, "y": {"field": "macd", "type": "quantitative", "axis": null}}},
{"data": {"values": [{}]}, "mark": {"type": "rect", "fill": "white"},
 "encoding": {
  "x": {"datum": {"year":2017,"month":11,"date":10,"hours":5,"utc":true}, "type": "temporal", "axis": null},
  "x2": {"datum": {"year":2018,"month":10,"date":28,"utc":true}},
  "y": {"datum": 2860, "type": "quantitative", "axis": null},
  "y2": {"datum": 3520}}},
{"data": {"values": [
  {"d": "2017-11-11T05:00:00Z", "m": 3182, "t": "━ MACD(12,26,9) 249.614", "k": "a"},
  {"d": "2018-05-30T05:00:00Z", "m": 3182, "t": ", 96.338", "k": "b"},
  {"d": "2018-08-07T19:00:00Z", "m": 3182, "t": ", 153.276", "k": "c"}]},
 "mark": {"type": "text", "align": "left", "baseline": "middle", "font": "DejaVu Sans Mono", "fontSize": 14.5},
 "encoding": {"x": {"field": "d", "type": "temporal", "axis": null}, "y": {"field": "m", "type": "quantitative", "axis": null}, "text": {"field": "t"},
  "color": {"condition": [{"test": "datum.k == 'b'", "value": "#ff2020"}, {"test": "datum.k == 'c'", "value": "#3a98d0"}], "value": "#111111"}}},
{"data": {"values": [{"m": 3000}, {"m": 2000}, {"m": 1000}, {"m": -1000}]},
 "mark": {"type": "text", "align": "right", "baseline": "middle", "fontSize": 13.5, "color": "#000000"},
 "encoding": {"x": {"datum": {"year":2020,"month":4,"date":16,"hours":2,"utc":true}, "type": "temporal", "axis": null}, "y": {"field": "m", "type": "quantitative", "axis": null}, "text": {"field": "m", "type": "quantitative", "format": "d"}}},
{"data": {"values": [{"d": "2020-04-02T00:00:00Z", "m": 96.338}]},
 "mark": {"type": "point", "shape": "M -1 0 L -0.8 -0.29 L 1 -0.29 L 1 0.29 L -0.8 0.29 Z", "size": 3364, "filled": true, "fill": "white", "stroke": "#ff2020", "strokeWidth": 1.3, "opacity": 1},
 "encoding": {"x": {"field": "d", "type": "temporal", "axis": null}, "y": {"field": "m", "type": "quantitative", "axis": null}}},
{"data": {"values": [{"d": "2020-04-02T00:00:00Z", "m": 249.614}]},
 "mark": {"type": "point", "shape": "M -1 0 L -0.8 -0.29 L 1 -0.29 L 1 0.29 L -0.8 0.29 Z", "size": 3364, "filled": true, "fill": "white", "stroke": "#000000", "strokeWidth": 1.3, "opacity": 1},
 "encoding": {"x": {"field": "d", "type": "temporal", "axis": null}, "y": {"field": "m", "type": "quantitative", "axis": null}}},
{"data": {"values": [{"d": "2020-04-02T00:00:00Z", "m": 249.614}]},
 "mark": {"type": "text", "align": "center", "baseline": "middle", "fontSize": 13.5, "dx": 3},
 "encoding": {"x": {"field": "d", "type": "temporal", "axis": null}, "y": {"field": "m", "type": "quantitative", "axis": null}, "text": {"field": "m", "type": "quantitative", "format": ".3f"}}}
]
},
{
"width": 851, "height": 20,
"view": {"stroke": null},
"data": {"name": "xl"},
"layer": [
{"transform": [{"filter": "datum.b == 1"}], "mark": {"type": "text", "align": "center", "baseline": "middle", "fontSize": 14, "fontWeight": "bold", "color": "#000000"},
 "encoding": {"x": {"field": "d", "type": "temporal", "scale": {"type": "utc", "domain": [{"year":2017,"month":11,"date":8,"hours":5,"utc":true},{"year":2020,"month":3,"date":5,"hours":5,"utc":true}]}, "axis": null}, "text": {"field": "t"}}},
{"transform": [{"filter": "datum.b == 0"}], "mark": {"type": "text", "align": "center", "baseline": "middle", "fontSize": 14, "color": "#000000"},
 "encoding": {"x": {"field": "d", "type": "temporal", "axis": null}, "text": {"field": "t"}}}
]
}
]
}
